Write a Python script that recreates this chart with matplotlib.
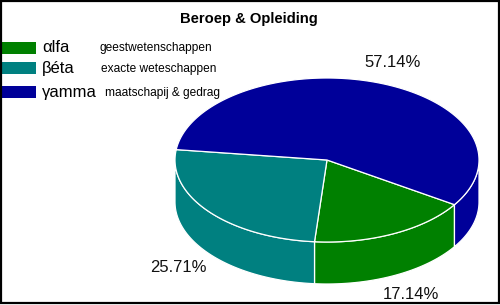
"""
3D-taart "Beroep & Opleiding" nagebouwd met matplotlib (500x305 px).
"""

import matplotlib
matplotlib.use("Agg")
import matplotlib.pyplot as plt
import numpy as np
from matplotlib.patches import Polygon, Rectangle

plt.rcParams["font.family"] = ["Liberation Sans", "DejaVu Sans"]

# ── data ──────────────────────────────────────────────────────────────────────
TITLE = "Beroep & Opleiding"
LABELS = ["\u03b1lfa", "\u03b2\u00e9ta", "\u03b3amma"]
DESCR = ["geestwetenschappen", "exacte weteschappen", "maatschapij & gedrag"]
VALUES = [17.14, 25.71, 57.14]
COLORS = ["#008000", "#008080", "#000099"]

# ── geometry (pixels) ─────────────────────────────────────────────────────────
W, H = 500, 305
CX, CY = 327, 160        # centre of top face
RX, RY = 152, 82         # ellipse half axes
DEPTH = 42
START = -33.0            # parametric start angle, clockwise
LABEL_R = 1.26


def ell(t_deg, dy=0.0):
    t = np.radians(t_deg)
    return CX + RX * np.cos(t), CY - RY * np.sin(t) + dy


fig = plt.figure(figsize=(W / 100, H / 100), dpi=100)
ax = fig.add_axes([0, 0, 1, 1])
ax.set_xlim(0, W)
ax.set_ylim(H, 0)
ax.axis("off")

fr = np.array(VALUES) / np.sum(VALUES)
bounds = START - 360 * np.concatenate([[0], np.cumsum(fr)])

# side walls (only the front half, sin t < 0)
for i, col in enumerate(COLORS):
    hi, lo = bounds[i], bounds[i + 1]
    for k in range(-2, 1):
        a, b = max(lo, -180 + 360 * k), min(hi, 360 * k)
        if b <= a:
            continue
        ts = np.linspace(a, b, 80)
        xt, yt = ell(ts)
        xb, yb = ell(ts[::-1], DEPTH)
        pts = np.column_stack([np.r_[xt, xb], np.r_[yt, yb]])
        ax.add_patch(Polygon(pts, closed=True, fc=col, ec="white", lw=0.9))

# top face
for i, col in enumerate(COLORS):
    ts = np.linspace(bounds[i], bounds[i + 1], 200)
    x, y = ell(ts)
    pts = np.column_stack([np.r_[CX, x], np.r_[CY, y]])
    ax.add_patch(Polygon(pts, closed=True, fc=col, ec="white", lw=0.9))

# percentages
for i, v in enumerate(VALUES):
    mid = np.radians((bounds[i] + bounds[i + 1]) / 2)
    lx = CX + LABEL_R * RX * np.cos(mid)
    ly = CY - LABEL_R * RY * np.sin(mid) + (DEPTH if np.sin(mid) < 0 else 0)
    ax.text(lx, ly, f"{v:.2f}%", fontsize=12, ha="center", va="center",
            color="#111111")

# legend
leg_y = [47.5, 68, 92]
desc_x = [99, 101, 105]
for i in range(len(LABELS)):
    ax.add_patch(Rectangle((1, leg_y[i] - 6), 35, 12, fc=COLORS[i], ec="none"))
    ax.text(42, leg_y[i], LABELS[i], fontsize=12, ha="left", va="center")
    ax.text(desc_x[i], leg_y[i] + 1, DESCR[i], fontsize=8.6, ha="left",
            va="center")

ax.text(249, 19, TITLE, fontsize=10.6, fontweight="bold", ha="center",
        va="center")

# frame
ax.add_patch(Rectangle((1, 0.5), 497.5, 302, fill=False, ec="black", lw=1.6))

fig.savefig("out.png", dpi=100)
